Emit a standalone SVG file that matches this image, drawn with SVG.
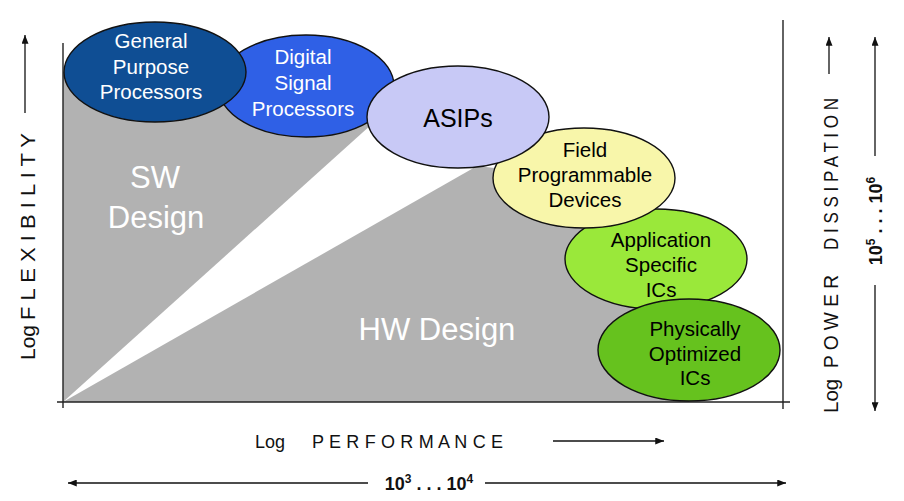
<svg xmlns="http://www.w3.org/2000/svg" width="904" height="501" viewBox="0 0 904 501">
<style>
  .lbl { font-family: "Liberation Sans", Arial, sans-serif; }
  .node { stroke: #111; stroke-width: 1.4; }
  .wt { fill: #ffffff; font-size: 20.5px; text-anchor: middle; }
  .bk { fill: #000000; font-size: 20.5px; text-anchor: middle; }
  .axis { stroke: #222; stroke-width: 1.4; fill: none; }
  .arr { stroke: #111; stroke-width: 1.3; fill: none; marker-end: url(#ah); }
  .ax { fill: #111; }
  .big { fill: #ffffff; font-size: 31px; text-anchor: middle; }
  .num { fill: #111; font-size: 18px; font-weight: bold; }
</style>
<defs>
  <marker id="ah" viewBox="0 0 10 8" refX="10" refY="4" markerWidth="9" markerHeight="7" markerUnits="userSpaceOnUse" orient="auto">
    <path d="M0,0 L10,4 L0,8 z" fill="#111"/>
  </marker>
</defs>
<rect width="904" height="501" fill="#ffffff"/>

<g id="regions">
  <polygon points="63,402 63,72 154,72 306,86 372,124" fill="#b2b2b2"/>
  <polygon points="63,402 477,166 584,178 656,259 689,350 689,402" fill="#b2b2b2"/>
  <text class="lbl big" x="155" y="188">SW</text>
  <text class="lbl big" x="156" y="228">Design</text>
  <text class="lbl big" x="437" y="340">HW Design</text>
</g>

<g id="axes">
  <line class="axis" x1="63" y1="43" x2="63" y2="408"/>
  <line class="axis" x1="57" y1="402" x2="790" y2="402"/>
  <line class="axis" x1="783" y1="20" x2="783" y2="409"/>
</g>

<g id="dsp">
  <ellipse class="node" cx="306" cy="86" rx="88" ry="51" fill="#2f60e6"/>
  <text class="lbl wt" x="303" y="64">Digital</text>
  <text class="lbl wt" x="303" y="90">Signal</text>
  <text class="lbl wt" x="303" y="116">Processors</text>
</g>
<g id="gpp">
  <ellipse class="node" cx="155" cy="72" rx="91" ry="50" fill="#0f4e94"/>
  <text class="lbl wt" x="151" y="48">General</text>
  <text class="lbl wt" x="151" y="74">Purpose</text>
  <text class="lbl wt" x="151" y="99">Processors</text>
</g>
<g id="asic">
  <ellipse class="node" cx="656" cy="259" rx="91" ry="50" fill="#9ae83a"/>
  <text class="lbl bk" x="661" y="247">Application</text>
  <text class="lbl bk" x="661" y="272">Specific</text>
  <text class="lbl bk" x="661" y="297">ICs</text>
</g>
<g id="poi">
  <ellipse class="node" cx="689" cy="350" rx="91" ry="51" fill="#66c21e"/>
  <text class="lbl bk" x="695" y="336">Physically</text>
  <text class="lbl bk" x="695" y="361">Optimized</text>
  <text class="lbl bk" x="695" y="385">ICs</text>
</g>
<g id="fpd">
  <ellipse class="node" cx="584" cy="178" rx="91" ry="50" fill="#f8f6aa"/>
  <text class="lbl bk" x="585" y="157">Field</text>
  <text class="lbl bk" x="585" y="182">Programmable</text>
  <text class="lbl bk" x="585" y="207">Devices</text>
</g>
<g id="asip">
  <ellipse class="node" cx="458" cy="117" rx="91" ry="51" fill="#c8c9f6"/>
  <text class="lbl bk" x="458" y="127" style="font-size:25px">ASIPs</text>
</g>

<g id="connectors">
  <line class="arr" x1="25" y1="113" x2="25" y2="35"/>
  <line class="arr" x1="829" y1="74" x2="829" y2="37"/>
  <line class="arr" x1="875" y1="156" x2="875" y2="37"/>
  <line class="arr" x1="875" y1="285" x2="875" y2="411"/>
  <line class="arr" x1="553" y1="441" x2="664" y2="441"/>
  <line class="arr" x1="368" y1="483" x2="68" y2="483"/>
  <line class="arr" x1="485" y1="483" x2="786" y2="483"/>
</g>

<g id="labels">
  <g transform="translate(35 0) rotate(-90)" font-size="21">
    <text class="lbl ax" x="-360" y="0">Log</text>
    <text class="lbl ax" x="-320" y="0" textLength="187" lengthAdjust="spacingAndGlyphs">F L E X I B I L I T Y</text>
  </g>
  <g transform="translate(838 0) rotate(-90)" font-size="20.5">
    <text class="lbl ax" x="-413" y="0">Log</text>
    <text class="lbl ax" x="-368" y="0" textLength="93" lengthAdjust="spacingAndGlyphs">P O W E R</text>
    <text class="lbl ax" x="-250" y="0" textLength="152" lengthAdjust="spacingAndGlyphs">D I S S I P A T I O N</text>
  </g>
  <text class="lbl ax" x="255" y="448" font-size="18">Log</text>
  <text class="lbl ax" x="312" y="448" font-size="18" textLength="191" lengthAdjust="spacing">P E R F O R M A N C E</text>
  <text class="lbl num" x="429" y="490" text-anchor="middle">10<tspan font-size="12" dy="-7">3</tspan><tspan dy="7"> . . . 10</tspan><tspan font-size="12" dy="-7">4</tspan></text>
  <text class="lbl num" x="882" y="221" text-anchor="middle" transform="rotate(-90 882 221)">10<tspan font-size="12" dy="-7">5</tspan><tspan dy="7"> . . . 10</tspan><tspan font-size="12" dy="-7">6</tspan></text>
</g>
</svg>
